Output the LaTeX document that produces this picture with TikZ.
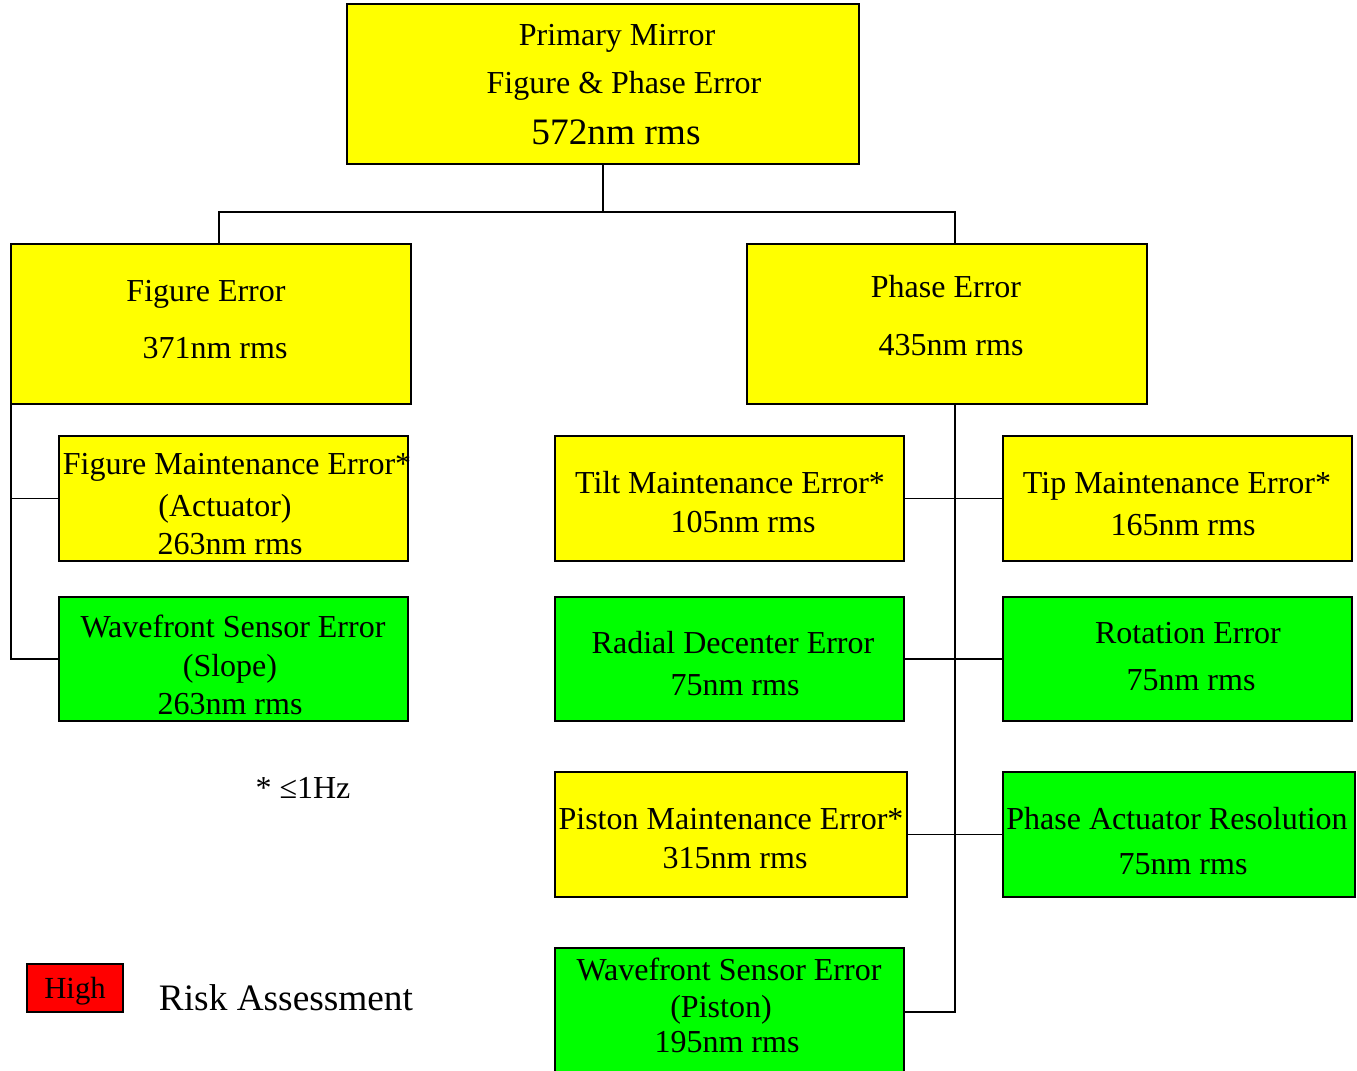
\documentclass[tikz,border=0pt]{standalone}
\usepackage{fontspec}
\setmainfont{Liberation Serif}
\definecolor{yel}{RGB}{255,255,0}
\definecolor{grn}{RGB}{0,255,0}
\definecolor{rd}{RGB}{255,0,0}
\tikzset{
  boxbase/.style={draw=black, line width=1.1pt, inner sep=0pt, outer sep=0pt, anchor=north west},
  ybox/.style={boxbase, fill=yel},
  gbox/.style={boxbase, fill=grn},
  rbox/.style={boxbase, fill=rd},
  txt/.style={inner sep=0pt, yshift=-5.25pt, font=\fontsize{24}{28}\selectfont, text height=0.7em, text depth=0.22em},
  conn/.style={line width=1.1pt, draw=black}
}
\newcommand\bx[6]{\node[#6, minimum width={(#4-#2)*0.75pt}, minimum height={(#5-#3)*0.75pt}] (#1) at (#2,#3) {};}
\begin{document}
\begin{tikzpicture}[x=0.75pt, y=-0.75pt]
\useasboundingbox (0,0) rectangle (1357,1071);
\clip (0,0) rectangle (1357,1071);
% boxes
\bx{top}{347}{4}{859}{164}{ybox}
\bx{fe}{11}{244}{411}{404}{ybox}
\bx{pe}{747}{244}{1147}{404}{ybox}
\bx{fme}{59}{436}{408}{561}{ybox}
\bx{wfsa}{59}{597}{408}{721}{gbox}
\bx{tilt}{555}{436}{904}{561}{ybox}
\bx{tip}{1003}{436}{1352}{561}{ybox}
\bx{rad}{555}{597}{904}{721}{gbox}
\bx{rot}{1003}{597}{1352}{721}{gbox}
\bx{pist}{555}{772}{907}{897}{ybox}
\bx{par}{1003}{772}{1355}{897}{gbox}
\bx{wfsb}{555}{948}{904}{1076}{gbox}
\bx{high}{27}{964}{123}{1012}{rbox}
% connectors
\coordinate (j) at (603,212);
\draw[conn] (top.south) -- (j);
\draw[conn] (j) -| ([xshift=6pt]fe.north);
\draw[conn] (j) -| ([xshift=6pt]pe.north);
\draw[conn] ([yshift=-12pt]fe.west) |- (fme.west);
\draw[conn] ([yshift=-12pt]fe.west) |- (wfsa.west);
\draw[conn] ([xshift=6pt]pe.south) |- (wfsb.east);
\draw[conn] (tilt.east) -- (tip.west);
\draw[conn] (rad.east) -- (rot.west);
\draw[conn] (pist.east) -- (par.west);
% texts
\node[txt] (t1) at (617,35) {Primary Mirror};
\node[txt] (t2) at (624,83) {Figure \& Phase Error};
\node[txt, font=\fontsize{28}{32}\selectfont] (t3) at (616,134) {572nm rms};
\node[txt] (t4) at (206,291) {Figure Error};
\node[txt] (t5) at (215,348) {371nm rms};
\node[txt] (t6) at (946,287) {Phase Error};
\node[txt] (t7) at (951,345) {435nm rms};
\node[txt] (t8) at (237,464) {Figure Maintenance Error*};
\node[txt] (t9) at (225,506) {(Actuator)};
\node[txt] (t10) at (230,544) {263nm rms};
\node[txt] (t11) at (233,627) {Wavefront Sensor Error};
\node[txt] (t12) at (230,666) {(Slope)};
\node[txt] (t13) at (230,704) {263nm rms};
\node[txt] (t14) at (730,483) {Tilt Maintenance Error*};
\node[txt] (t15) at (743,522) {105nm rms};
\node[txt] (t16) at (1177,483) {Tip Maintenance Error*};
\node[txt] (t17) at (1183,525) {165nm rms};
\node[txt] (t18) at (733,643) {Radial Decenter Error};
\node[txt] (t19) at (735,685) {75nm rms};
\node[txt] (t20) at (1188,633) {Rotation Error};
\node[txt] (t21) at (1191,680) {75nm rms};
\node[txt] (t22) at (731,819) {Piston Maintenance Error*};
\node[txt] (t23) at (735,858) {315nm rms};
\node[txt] (t24) at (1177,819) {Phase Actuator Resolution};
\node[txt] (t25) at (1183,864) {75nm rms};
\node[txt] (t26) at (729,970) {Wavefront Sensor Error};
\node[txt] (t27) at (721,1007) {(Piston)};
\node[txt] (t28) at (727,1042) {195nm rms};
\node[txt] (t29) at (303,788) {* ≤1Hz};
\node[txt, font=\fontsize{23}{27}\selectfont] (t30) at (high.center) {High};
\node[txt, font=\fontsize{28}{32}\selectfont] (t31) at (286,1000) {Risk Assessment};
\end{tikzpicture}
\end{document}
